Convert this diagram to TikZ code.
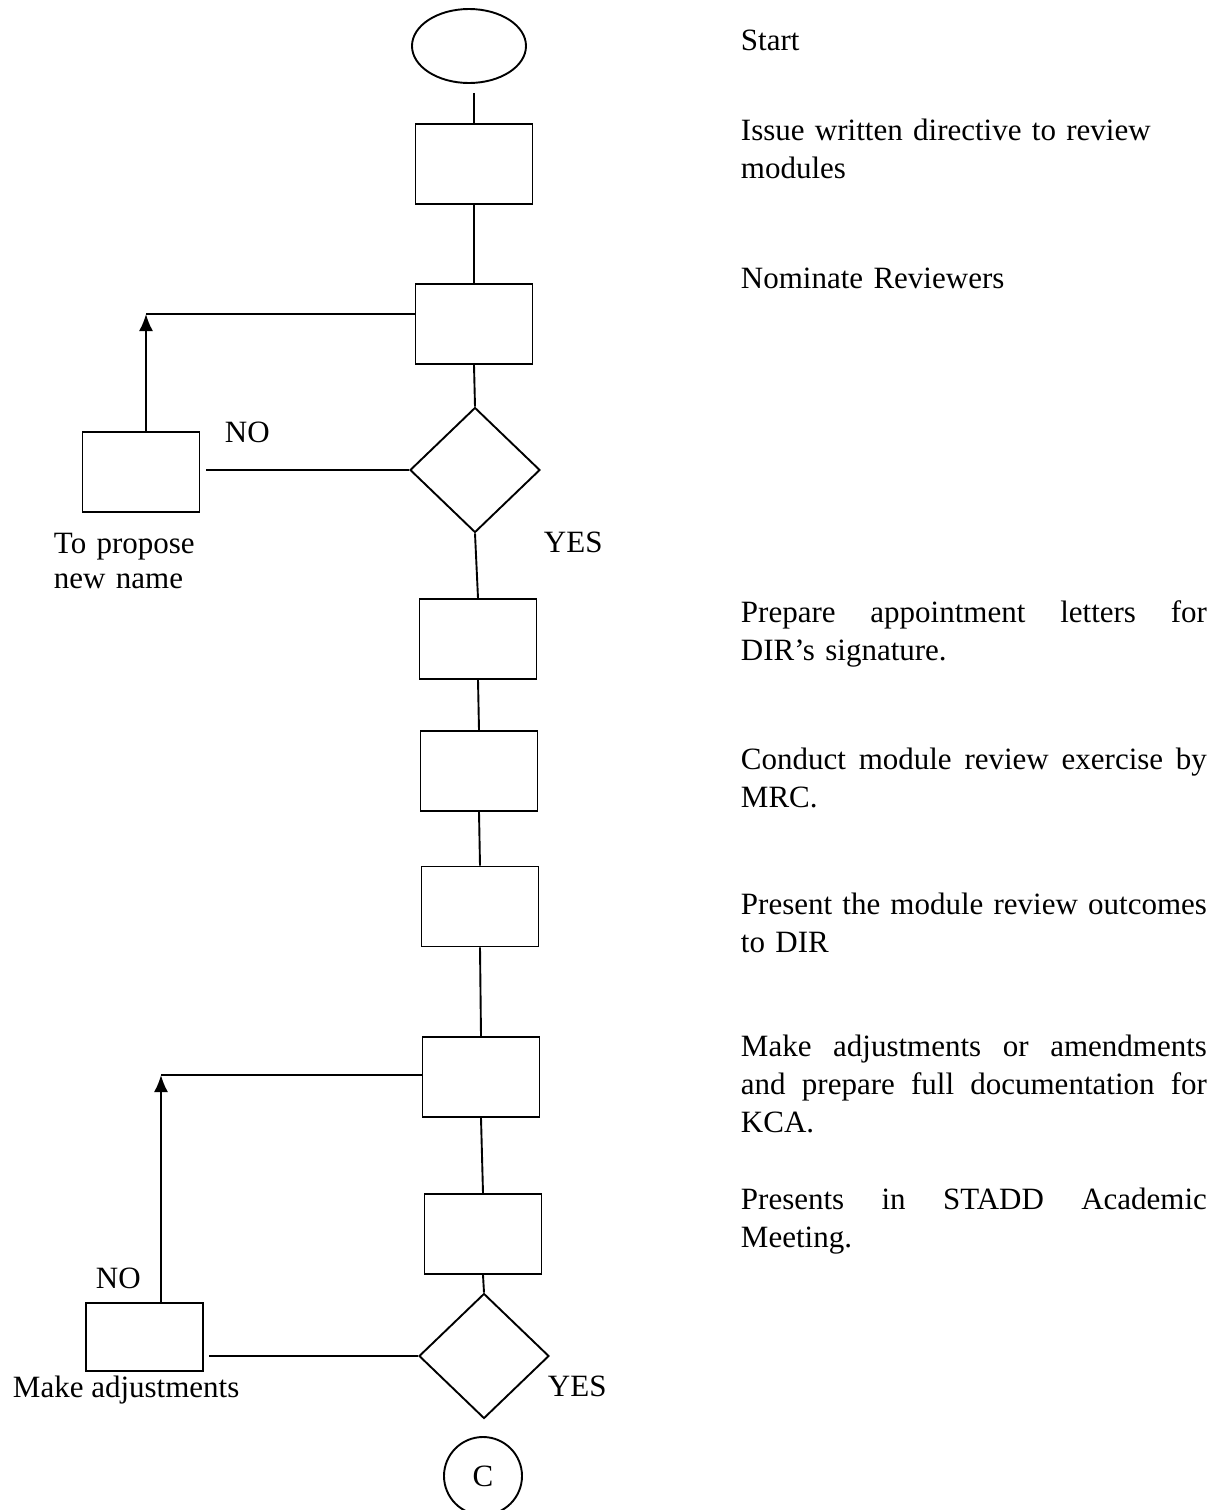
\documentclass[tikz,border=0pt]{standalone}
\usepackage{fontspec}
\setmainfont{Liberation Serif}
\usetikzlibrary{shapes.geometric,arrows.meta,calc}
\newcommand\fullline[1]{\leavevmode\hbox to 466pt{#1}}
\begin{document}
\begin{tikzpicture}[x=1pt,y=-1pt,
  line width=1.9pt,
  every node/.style={font=\fontsize{31}{38}\selectfont, inner sep=0pt},
  stepbox/.style={draw, rectangle, minimum width=117pt, minimum height=80pt},
  decision/.style={draw, diamond, minimum width=130pt, minimum height=125pt},
  terminal/.style={draw, ellipse, minimum width=114pt, minimum height=74pt},
  connector/.style={draw, circle, minimum size=78pt},
  descr/.style={anchor=base west, text width=466pt, align=left},
  lbl/.style={anchor=base west},
  flowarrow/.style={-{Latex[length=17pt,width=14pt]}}
]
\useasboundingbox (0,0) rectangle (1227,1510);

% main column
\node[terminal] (e) at (469,46) {};
\node[stepbox] (b1) at (474,164) {};
\node[stepbox] (b2) at (474,324) {};
\node[decision] (d1) at (475,470) {};
\node[stepbox] (s1) at (141,472) {};
\node[stepbox] (b3) at (478,639) {};
\node[stepbox] (b4) at (479,771) {};
\node[stepbox] (b5) at (480,906.5) {};
\node[stepbox] (b6) at (481,1077) {};
\node[stepbox] (b7) at (483,1234) {};
\node[decision] (d2) at (484,1356) {};
\node[stepbox, minimum height=68pt] (s2) at (144.5,1337) {};
\node[connector] (c) at (483,1476) {C};
\coordinate (k1) at (146,314);
\coordinate (k2) at (161,1075);

% connectors
\draw ($(e.south -| b1.north)+(0,9)$) -- (b1.north);
\draw (b1.south) -- (b2.north);
\draw (b2.south) -- (d1.north);
\draw (d1.south) -- (b3.north);
\draw (b3.south) -- (b4.north);
\draw (b4.south) -- (b5.north);
\draw (b5.south) -- (b6.north);
\draw (b6.south) -- (b7.north);
\draw (b7.south) -- (d2.north);

\draw (d1.west) -- ($(s1.east |- d1.west)+(6,0)$);
\draw[flowarrow] (k1 |- s1.north) -- (k1);
\draw (k1) -- (k1 -| b2.west);

\draw (d2.west) -- ($(s2.east |- d2.west)+(5,0)$);
\draw[flowarrow] (k2 |- s2.north) -- (k2);
\draw (k2) -- (k2 -| b6.west);

% labels on the chart
\node[lbl] (no1) at (224,442) {NO};
\node[lbl] (yes1) at (543,552) {YES};
\node[anchor=base west, text width=200pt, align=left,
      font=\fontsize{31}{35}\selectfont] (t1) at (53,553) {To propose\\new name};
\node[lbl] (no2) at (95,1288) {NO};
\node[lbl] (yes2) at (547,1396) {YES};
\node[lbl] (t2) at (12,1397) {Make adjustments};

% description column
\node[descr] (r1) at (740,50) {Start};
\node[descr] (r2) at (740,140) {Issue written directive to review\\modules};
\node[descr] (r3) at (740,288) {Nominate Reviewers};
\node[descr] (r4) at (740,622) {\fullline{Prepare\hfill appointment\hfill letters\hfill for}\\DIR’s signature.};
\node[descr] (r5) at (740,769) {\fullline{Conduct\hfill module\hfill review\hfill exercise\hfill by}\\MRC.};
\node[descr] (r6) at (740,914) {\fullline{Present\hfill the\hfill module\hfill review\hfill outcomes}\\to DIR};
\node[descr] (r7) at (740,1056) {\fullline{Make\hfill adjustments\hfill or\hfill amendments}\\\fullline{and\hfill prepare\hfill full\hfill documentation\hfill for}\\KCA.};
\node[descr] (r8) at (740,1209) {\fullline{Presents\hfill in\hfill STADD\hfill Academic}\\Meeting.};
\end{tikzpicture}
\end{document}
